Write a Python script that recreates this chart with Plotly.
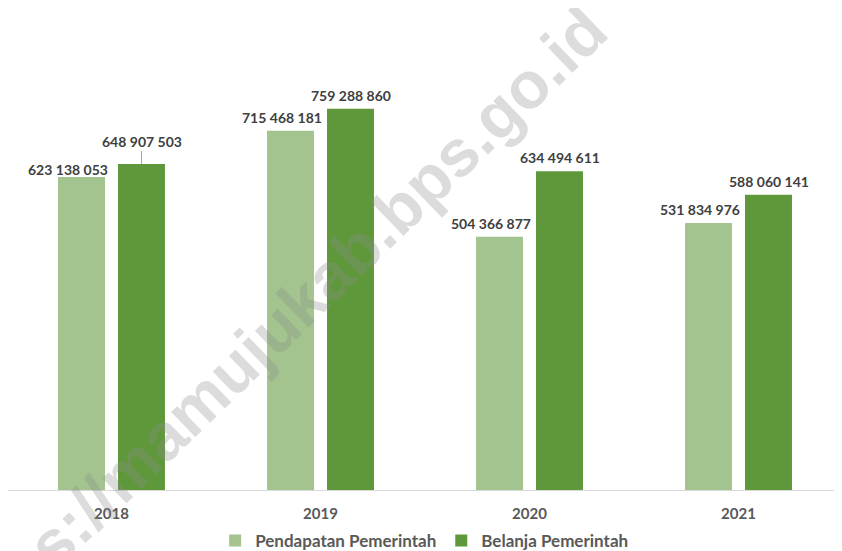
import plotly.graph_objects as go

years = ["2018", "2019", "2020", "2021"]
pendapatan = [623138053, 715468181, 504366877, 531834976]
belanja = [648907503, 759288860, 634494611, 588060141]
series_names = ["Pendapatan Pemerintah", "Belanja Pemerintah"]

COL_LIGHT = "#A3C48F"
COL_DARK = "#5F983A"
LABEL_COL = "#404040"
TICK_COL = "#595959"
FONT = "Lato"

fig = go.Figure()
fig.add_trace(go.Bar(x=years, y=pendapatan, name=series_names[0],
                     marker=dict(color=COL_LIGHT, line=dict(width=0))))
fig.add_trace(go.Bar(x=years, y=belanja, name=series_names[1],
                     marker=dict(color=COL_DARK, line=dict(width=0))))

def fmt(v):
    return f"{v:,}".replace(",", " ")

annotations = []
# label placement (pixel offsets) per series / year; x given as category index
for si, (vals, side) in enumerate([(pendapatan, -39), (belanja, 30)]):
    for yi, v in enumerate(vals):
        xshift = side
        yshift = 3
        if yi == 0 and si == 0:
            xshift = -44
            yshift = -3
        a = dict(x=yi, y=v, xref="x", yref="y", text=fmt(v),
                 font=dict(family=FONT, size=14, color=LABEL_COL, weight="bold"),
                 xshift=xshift, yanchor="bottom", showarrow=False, yshift=yshift)
        if yi == 0 and si == 1:
            a = dict(x=yi, y=v, xref="x", yref="y", text=fmt(v),
                     font=dict(family=FONT, size=14, color=LABEL_COL, weight="bold"),
                     xshift=xshift, showarrow=True, ax=0, ay=-23, arrowhead=0,
                     arrowwidth=1, arrowcolor="#A6A6A6", standoff=0)
        annotations.append(a)

# watermark
annotations.append(dict(x=0.3165, y=0.352, xref="paper", yref="paper",
                        text="https://mamujukab.bps.go.id", showarrow=False,
                        textangle=-44,
                        font=dict(family="Liberation Sans, Arial", size=66,
                                  color="rgba(140,140,140,0.3)", weight="bold"),
                        xanchor="center", yanchor="middle"))

# page body has an 8px margin, so the figure is sized to fit inside the window
fig.update_layout(
    width=834, height=543,
    margin=dict(l=0, r=0, t=30, b=61),
    paper_bgcolor="white", plot_bgcolor="white",
    barmode="group", bargap=0.426, bargroupgap=0.217,
    showlegend=True,
    legend=dict(orientation="h", xref="container", yref="container",
                x=0.499, xanchor="center", y=0.0184, yanchor="middle",
                font=dict(family=FONT, size=17, color=TICK_COL, weight="bold"),
                itemsizing="constant", traceorder="normal"),
    xaxis=dict(type="category", range=[-0.4952, 3.4952], showline=True,
               automargin=False, linecolor="#D9D9D9", linewidth=1,
               ticks="", showgrid=False, zeroline=False,
               tickfont=dict(family=FONT, size=15, color=TICK_COL, weight="bold"),
               ticklabelstandoff=10),
    yaxis=dict(visible=False, automargin=False, range=[0, 900e6],
               showgrid=False, zeroline=False),
    annotations=annotations,
)

fig.write_html("out.html")
